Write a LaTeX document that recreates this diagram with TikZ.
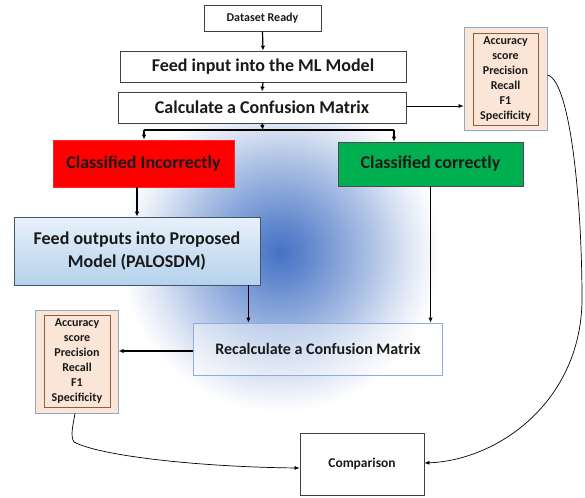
\documentclass[tikz,border=0pt]{standalone}
\usepackage{fontspec}
\setmainfont{Carlito}
\usetikzlibrary{arrows.meta}
\definecolor{glowc}{HTML}{4472C4}
\definecolor{redbox}{HTML}{FF0000}
\definecolor{greenbox}{HTML}{00B050}
\definecolor{peach}{HTML}{FBE5D6}
\definecolor{outerb}{HTML}{8FA8C8}
\definecolor{innerb}{HTML}{8B5E45}
\definecolor{bluetop}{HTML}{E8F1FA}
\definecolor{bluebot}{HTML}{B4D1EC}
\definecolor{foborder}{HTML}{44546A}
\definecolor{rcborder}{HTML}{8FAADC}
\definecolor{txt}{HTML}{1A1A1A}
\pgfdeclareradialshading{glowshade}{\pgfpoint{0bp}{0bp}}{color(0bp)=(glowc); color(5bp)=(glowc!82!white); color(14bp)=(glowc!45!white); color(20bp)=(glowc!18!white); color(25bp)=(white); color(50bp)=(white)}
\begin{document}
\begin{tikzpicture}[x=1pt,y=-1pt,
  box/.style={draw=black!75, line width=0.8pt, fill=white, inner sep=0pt, align=center, text=txt, font=\bfseries},
  arr/.style={line width=1.2pt, -{Latex[length=5pt,width=4.5pt]}},
  thinarr/.style={line width=0.7pt, -{Latex[length=5pt,width=4pt]}},
  metout/.style={draw=outerb, line width=0.8pt, fill=peach, inner sep=0pt},
  metin/.style={draw=innerb, line width=0.7pt, inner sep=0pt, align=center, text=txt, font=\fontsize{12}{15}\selectfont\bfseries}
]
\useasboundingbox (0,0) rectangle (585,497);
\shade[shading=glowshade] (280,252) ellipse (160 and 160);

\node[box, minimum width=117pt, minimum height=26pt, font=\fontsize{12}{14}\selectfont\bfseries] (ds) at (262.5,18) {Dataset Ready};
\node[box, minimum width=286pt, minimum height=31pt, font=\fontsize{18}{20}\selectfont\bfseries] (fi) at (263,66.5) {Feed input into the ML Model};
\node[box, minimum width=288pt, minimum height=31pt, font=\fontsize{18}{20}\selectfont\bfseries] (cc) at (262,107.5) {Calculate a Confusion Matrix};
\node[box, draw=redbox!85!white, fill=redbox, minimum width=181pt, minimum height=47pt, font=\fontsize{18}{20}\selectfont\bfseries] (ci) at (143.5,163.5) {Classified Incorrectly};
\node[box, draw=black!70, fill=greenbox, minimum width=185pt, minimum height=44pt, font=\fontsize{18}{20}\selectfont\bfseries] (cr) at (430.5,164) {Classified correctly};
\node[box, draw=foborder, top color=bluetop, bottom color=bluebot, minimum width=246pt, minimum height=68pt, font=\fontsize{18}{23}\selectfont\bfseries] (fo) at (137,251) {Feed outputs into Proposed\\Model (PALOSDM)};
\node[box, draw=rcborder, fill=white, fill opacity=0.4, text opacity=1, minimum width=249pt, minimum height=52pt, font=\fontsize{16}{18}\selectfont\bfseries] (rc) at (318,349) {Recalculate a Confusion Matrix};
\node[box, minimum width=124pt, minimum height=62pt, font=\fontsize{13.5}{16}\selectfont\bfseries] (cmp) at (362,464) {Comparison};

\node[metout, minimum width=83pt, minimum height=103pt] (m1o) at (505.5,78.5) {};
\node[metin, minimum width=65pt, minimum height=92pt] (m1) at (505.5,79) {Accuracy\\score\\Precision\\Recall\\F1\\Specificity};
\node[metout, minimum width=82.5pt, minimum height=103pt] (m2o) at (77,361.5) {};
\node[metin, minimum width=66pt, minimum height=92pt] (m2) at (77,361) {Accuracy\\score\\Precision\\Recall\\F1\\Specificity};

\coordinate (j) at (263,130);
\coordinate (jl) at (144,130);
\coordinate (jr) at (394,130);

\draw[arr] (ds.south) -- (fi.north);
\draw[arr] (fi.south) -- (cc.north);
\draw[arr] (cc.south) -- (j);
\draw[line width=1.2pt] (jl) -- (jr);
\draw[arr] (jl) -- (jl |- ci.north);
\draw[arr] (jr) -- (jr |- cr.north);
\draw[thinarr] ([yshift=1.5pt]cc.east) -- ([yshift=1.5pt]cc.east -| m1o.west);
\draw[arr] (fo.north |- ci.south) -- (fo.north);
\draw[arr] ([xshift=-12pt]fo.south east) -- ([xshift=-12pt]fo.south east |- rc.north);
\draw[arr] (cr.south) -- (cr.south |- rc.north);
\draw[arr] ([yshift=-2pt]rc.west) -- ([yshift=-2pt]rc.west -| m2o.east);
\draw[thinarr] ([xshift=-2pt]m2o.south) .. controls (73,425) and (70,436) .. (74,442) .. controls (100,456) and (200,467) .. ([yshift=-4pt]cmp.west);
\draw[thinarr] ([yshift=3.5pt]m1o.east) .. controls (570,80) and (582,200) .. (582,300) .. controls (581,400) and (500,460) .. ([yshift=1pt]cmp.east);
\end{tikzpicture}
\end{document}
